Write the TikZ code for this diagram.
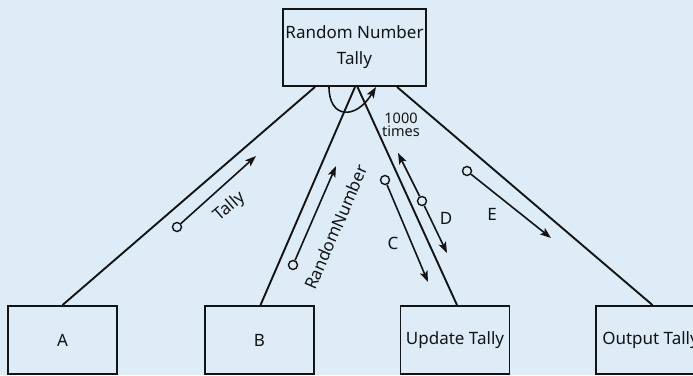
\documentclass[tikz,border=0pt]{standalone}
\usepackage{fontspec}
\setmainfont{Noto Sans}
\usetikzlibrary{arrows.meta}
\definecolor{bg}{RGB}{221,236,247}
\definecolor{ink}{RGB}{20,20,20}
\begin{document}
\begin{tikzpicture}[x=1pt,y=-1pt,
  box/.style={draw=ink,text=ink,line width=1.9pt,minimum width=109pt,minimum height=68pt,inner sep=0pt,font=\fontsize{17}{20}\selectfont},
  main/.style={draw=ink,line width=1.9pt},
  flow/.style={draw=ink,line width=1.6pt,-{Stealth[length=11pt,width=8pt,inset=2.5pt]}},
  tail/.style={circle,draw=ink,line width=1.4pt,minimum size=9pt,inner sep=0pt},
  lbl/.style={text=ink,font=\fontsize{17}{20}\selectfont,inner sep=0pt}]
\useasboundingbox (0,0) rectangle (693,375);
\clip (0,0) rectangle (693,375);
\fill[bg] (0,0) rectangle (693,375);

\node[box,minimum width=143pt,minimum height=77pt,align=center] (top) at (354.5,47.5) {Random Number\\[6pt]Tally};
\node[box] (A) at (62.5,340) {A};
\node[box] (B) at (259.5,340) {B};
\node[box] (U) at (455,340) {Update Tally};
\node[box] (O) at (650.5,340) {Output Tally};

\draw[main] ([xshift=-39.5pt]top.south) -- (A.north);
\draw[main] ([xshift=0.5pt]top.south) -- ([xshift=1pt]B.north);
\draw[main] ([xshift=3pt]top.south) -- ([xshift=2pt]U.north);
\draw[main] ([xshift=42.5pt]top.south) -- ([xshift=2pt]O.north);

\draw[flow] ([xshift=-25.5pt]top.south) .. controls +(0,32) and +(-20,33) .. ([xshift=21.5pt]top.south);

\node[tail] (t1) at (177,227) {};
\coordinate (t1e) at (256,156);
\draw[flow] (t1) -- (t1e);
\node[lbl,rotate=41] (l1) at (230,207) {Tally};

\node[tail] (t2) at (293,265) {};
\coordinate (t2e) at (336,166);
\draw[flow] (t2) -- (t2e);
\node[lbl,rotate=66.7] (l2) at (336,227) {RandomNumber};

\node[tail] (t3) at (385,180) {};
\coordinate (t3e) at (428,282);
\draw[flow] (t3) -- (t3e);
\node[lbl] (l3) at (393,243) {C};

\node[tail] (t4) at (422,201) {};
\coordinate (t4a) at (398,153);
\coordinate (t4b) at (447,253);
\draw[flow] (t4) -- (t4a);
\draw[flow] (t4) -- (t4b);
\node[lbl] (l4) at (446,218) {D};

\node[tail] (t5) at (467,171) {};
\coordinate (t5e) at (551,238);
\draw[flow] (t5) -- (t5e);
\node[lbl] (l5) at (492,214) {E};

\node[align=center,text=ink,inner sep=0pt,font=\fontsize{14.5}{13}\selectfont] (k) at (401,125) {1000\\times};
\end{tikzpicture}
\end{document}
